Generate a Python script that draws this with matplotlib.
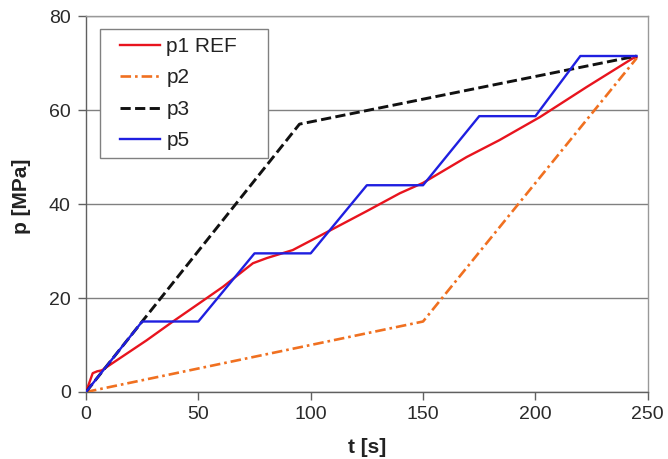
import matplotlib
matplotlib.use("Agg")
import matplotlib.pyplot as plt
from matplotlib.legend_handler import HandlerLine2D
from matplotlib.lines import Line2D

plt.rcParams['font.family'] = ['Liberation Sans', 'DejaVu Sans']

# p1 REF: measured pressure curve
t_p1 = [0, 3, 5, 7, 12, 27, 38.7, 53.8, 61, 74.3, 80.5, 92, 100, 125, 139.7, 150, 169.4, 184, 202, 222.8, 243.3, 245]
p_p1 = [0, 4.0, 4.4, 4.6, 6.2, 11, 15, 20, 22.4, 27.4, 28.5, 30.2, 32.2, 38.5, 42.3, 44.5, 50, 53.6, 58.5, 64.9, 71, 71.2]

# p2: slow ramp then steep ramp
t_p2 = [0, 150, 245]
p_p2 = [0, 15, 71]

# p3: fast ramp then slow ramp
t_p3 = [0, 95, 245]
p_p3 = [0, 57, 71.5]

# p5: staircase ramp with holds
t_p5 = [0, 25, 50, 75, 100, 125, 150, 175, 200, 220, 245]
p_p5 = [0, 15, 15, 29.5, 29.5, 44, 44, 58.7, 58.7, 71.5, 71.5]

x_ticks = [0, 50, 100, 150, 200, 250]
y_ticks = [0, 20, 40, 60, 80]

fig = plt.figure(figsize=(6.68, 4.59), dpi=100)
ax = fig.add_axes([0.1287, 0.146, 0.841, 0.819])

ax.plot(t_p1, p_p1, color='#e8141e', lw=1.7, label='p1 REF', zorder=3)
ax.plot(t_p2, p_p2, color='#f07020', lw=1.9, linestyle=(0, (4, 1.5, 1, 1.5)), label='p2', zorder=3)
ax.plot(t_p3, p_p3, color='#111111', lw=2.1, linestyle=(0, (3.5, 1.5)), label='p3', zorder=3)
ax.plot(t_p5, p_p5, color='#1f1fe0', lw=1.7, label='p5', zorder=4)

ax.set_xlim(0, 250)
ax.set_ylim(0, 80)
ax.set_xticks(x_ticks)
ax.set_yticks(y_ticks)
ax.yaxis.grid(True, color='#808080', lw=1.0)
ax.set_axisbelow(True)

for side in ['top', 'right']:
    ax.spines[side].set_color('#999999')
    ax.spines[side].set_linewidth(1.0)
for side in ['left', 'bottom']:
    ax.spines[side].set_color('#606060')
    ax.spines[side].set_linewidth(1.0)

ax.tick_params(axis='both', direction='out', length=6, width=1, color='#606060',
               labelsize=14, labelcolor='#2a2a2a')
ax.tick_params(axis='y', pad=5)
ax.tick_params(axis='x', pad=4)

ax.set_xlabel('t [s]', fontsize=15, fontweight='bold', color='#222222', labelpad=11)
ax.set_ylabel('p [MPa]', fontsize=15, fontweight='bold', color='#222222', labelpad=13)
ax.yaxis.label.set_y(0.521)

# legend sample lines are inset from the frame edge
inset = HandlerLine2D(marker_pad=0.6, numpoints=2)
handles, labels = ax.get_legend_handles_labels()
leg = ax.legend(handles, labels, loc='upper left',
                bbox_to_anchor=(0.0249, 0.0, 0.299, 0.9654), mode='expand',
                fontsize=15, frameon=True, fancybox=False, framealpha=1,
                edgecolor='#808080', handlelength=3.1, handletextpad=-0.3,
                labelspacing=0.6, borderpad=0.38, borderaxespad=0,
                handler_map={Line2D: inset})
leg.get_frame().set_linewidth(1.0)
for txt in leg.get_texts():
    txt.set_color('#222222')

fig.savefig('out.png', dpi=100)
